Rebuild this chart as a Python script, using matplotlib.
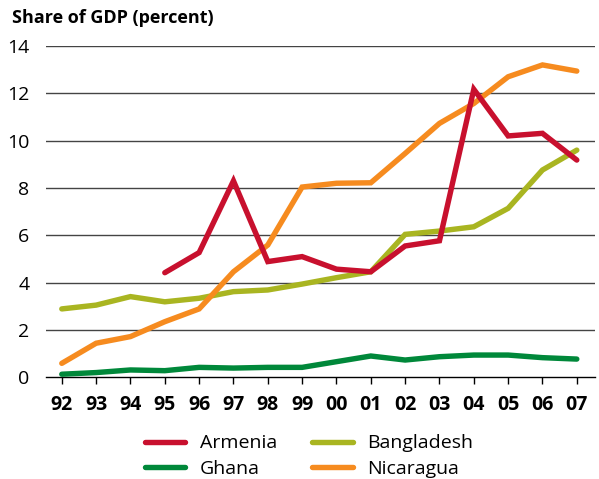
import numpy as np
import matplotlib
matplotlib.use('Agg')
import matplotlib.pyplot as plt

plt.rcParams['font.family'] = ['Open Sans', 'DejaVu Sans']

years = ['92', '93', '94', '95', '96', '97', '98', '99',
         '00', '01', '02', '03', '04', '05', '06', '07']

armenia    = [np.nan, np.nan, np.nan, 4.42, 5.27, 8.30, 4.89, 5.10,
              4.57, 4.46, 5.55, 5.77, 12.17, 10.20, 10.31, 9.18]
bangladesh = [2.89, 3.05, 3.41, 3.19, 3.34, 3.62, 3.69, 3.94,
              4.21, 4.46, 6.04, 6.18, 6.36, 7.14, 8.76, 9.60]
ghana      = [0.13, 0.20, 0.31, 0.28, 0.42, 0.39, 0.42, 0.42,
              0.66, 0.90, 0.73, 0.87, 0.94, 0.94, 0.83, 0.77]
nicaragua  = [0.59, 1.44, 1.72, 2.35, 2.89, 4.46, 5.59, 8.04,
              8.20, 8.22, 9.46, 10.73, 11.57, 12.70, 13.20, 12.94]

y_ticks = [0, 2, 4, 6, 8, 10, 12, 14]

series = [
    ('Armenia',    armenia,    '#c8102e'),
    ('Ghana',      ghana,      '#00883a'),
    ('Bangladesh', bangladesh, '#a9b521'),
    ('Nicaragua',  nicaragua,  '#f68b1f'),
]

fig = plt.figure(figsize=(5.99, 4.79), dpi=100)
ax = fig.add_axes([46 / 599, 1 - 377.3 / 479, 549 / 599, (377.3 - 46) / 479])

x = np.arange(len(years))
ax.set_xlim(-0.46, len(years) - 1 + 0.53)
ax.set_ylim(0, 14)

for y in y_ticks[1:]:
    ax.axhline(y, color='#444444', linewidth=1.0, zorder=1)

# draw order: Ghana, Bangladesh, Nicaragua, Armenia on top
handles = {}
for name, vals, col in [series[1], series[2], series[3], series[0]]:
    line, = ax.plot(x, vals, color=col, linewidth=3.9, solid_capstyle='round',
                    solid_joinstyle='miter', zorder=3)
    handles[name] = line

for s in ['top', 'right', 'left']:
    ax.spines[s].set_visible(False)
ax.spines['bottom'].set_color('black')
ax.spines['bottom'].set_linewidth(1.0)

ax.set_xticks(x)
ax.set_xticklabels(years, fontsize=14, fontweight='bold')
ax.tick_params(axis='x', direction='out', length=5, width=1, pad=8, colors='black')
ax.set_yticks(y_ticks)
ax.set_yticklabels([str(v) for v in y_ticks], fontsize=14)
ax.tick_params(axis='y', length=0, pad=12)

fig.text(12 / 599, 1 - 18 / 479, 'Share of GDP (percent)', fontsize=13,
         fontweight='bold', ha='left', va='center')

order = ['Armenia', 'Ghana', 'Bangladesh', 'Nicaragua']
fig.legend([handles[n] for n in order], order, ncol=2, frameon=False,
           fontsize=14, handlelength=2.1, handletextpad=0.75, columnspacing=1.8,
           labelspacing=0.36, loc='center left',
           bbox_to_anchor=(127 / 599, 1 - 456 / 479))

fig.savefig('out.png', dpi=100)
